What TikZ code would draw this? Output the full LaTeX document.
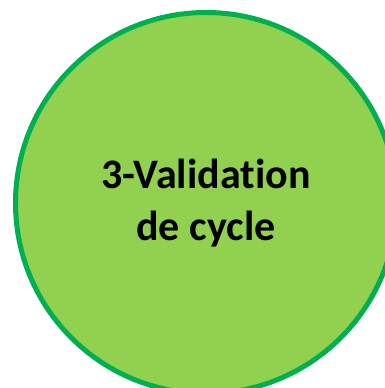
\documentclass[tikz,border=0pt]{standalone}
\usepackage{fontspec}
\setmainfont[Ligatures=NoCommon]{Carlito}
\definecolor{cerclevert}{HTML}{92D050}
\definecolor{bordvert}{HTML}{00B050}
\begin{document}
\begin{tikzpicture}[x=1pt, y=-1pt,
    every node/.style = {shape=circle,
      draw=bordvert, line width=5pt, fill=cerclevert,
      align=center, font=\fontsize{42}{52}\selectfont\bfseries}]
    \clip (0,0) rectangle (385,388);
    \useasboundingbox (0,0) rectangle (385,388);
    \node[minimum size=381pt, inner sep=0pt] (cycle) at (206,203) {3-Validation \\ de cycle};
  \end{tikzpicture}
\end{document}
